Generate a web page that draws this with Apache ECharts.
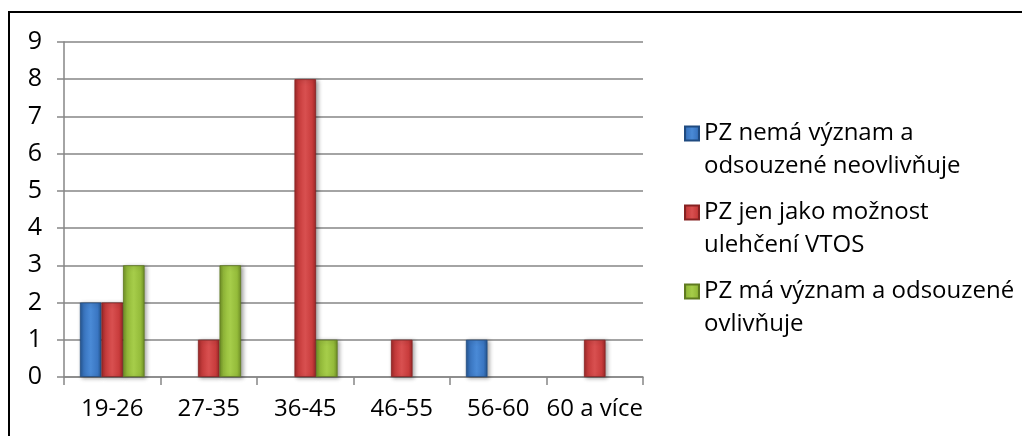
<!DOCTYPE html>
<html>
<head>
<meta charset="utf-8">
<script src="https://cdn.jsdelivr.net/npm/echarts@6/dist/echarts.min.js"></script>
<style>
html,body{margin:0;padding:0;background:#fff;}
#chart{width:1022px;height:436px;}
</style>
</head>
<body>
<div id="chart"></div>
<script>
const categories = ['19-26', '27-35', '36-45', '46-55', '56-60', '60 a více'];
const seriesNames = [
  'PZ nemá význam a odsouzené neovlivňuje',
  'PZ jen jako možnost ulehčení VTOS',
  'PZ má význam a odsouzené ovlivňuje'
];
const legendLabels = [
  ['PZ nemá význam a', 'odsouzené neovlivňuje'],
  ['PZ jen jako možnost', 'ulehčení VTOS'],
  ['PZ má význam a odsouzené', 'ovlivňuje']
];
const valuesBlue = [2, 0, 0, 0, 1, 0];
const valuesRed = [2, 1, 8, 1, 0, 1];
const valuesGreen = [3, 3, 1, 0, 0, 0];
const yTicks = { min: 0, max: 9, interval: 1 };

function grad(dark, base, light) {
  return new echarts.graphic.LinearGradient(0, 0, 1, 0, [
    { offset: 0, color: dark },
    { offset: 0.18, color: base },
    { offset: 0.5, color: light },
    { offset: 0.82, color: base },
    { offset: 1, color: dark }
  ]);
}
const palette = [
  grad('#24558f', '#3a76c2', '#4a8ad6'),
  grad('#9c2828', '#c83c3c', '#d85050'),
  grad('#6f8f26', '#94bb3a', '#a6cd4a')
];
const edgeColors = ['#1f4a80', '#862222', '#5f7a20'];
const allValues = [valuesBlue, valuesRed, valuesGreen];

const chart = echarts.init(document.getElementById('chart'), null, { renderer: 'canvas' });
const FONT = '"Open Sans", "Noto Sans", sans-serif';

chart.setOption({
  backgroundColor: '#fff',
  animation: false,
  textStyle: { fontFamily: FONT },
  graphic: [{
    type: 'rect',
    shape: { x: 9, y: 12, width: 1100, height: 500 },
    style: { fill: 'none', stroke: '#000', lineWidth: 2 },
    silent: true,
    z: 100
  }],
  grid: { left: 64, right: 379, top: 42, bottom: 59, containLabel: false },
  legend: {
    orient: 'vertical',
    left: 684,
    top: 84,
    padding: 0,
    itemWidth: 14,
    itemHeight: 14,
    itemGap: -20,
    icon: 'rect',
    data: seriesNames,
    formatter: function (name) {
      const l = legendLabels[seriesNames.indexOf(name)];
      return ' \n' + l[0] + '\n' + l[1];
    },
    textStyle: {
      fontFamily: FONT,
      fontSize: 24,
      color: '#000',
      lineHeight: 33
    }
  },
  xAxis: {
    type: 'category',
    data: categories,
    axisLine: { lineStyle: { color: '#868686', width: 1.5 } },
    axisTick: { show: true, length: 8, lineStyle: { color: '#868686', width: 1.5 } },
    axisLabel: { color: '#000', fontSize: 24, fontFamily: FONT, margin: 20, interval: 0 }
  },
  yAxis: {
    type: 'value',
    min: yTicks.min,
    max: yTicks.max,
    interval: yTicks.interval,
    axisLine: { show: true, lineStyle: { color: '#868686', width: 1.5 } },
    axisTick: { show: true, length: 7, lineStyle: { color: '#868686', width: 1.5 } },
    splitLine: { lineStyle: { color: '#868686', width: 1.5 } },
    axisLabel: { color: '#000', fontSize: 25, fontFamily: FONT, margin: 22 }
  },
  series: seriesNames.map((name, i) => ({
    name: name,
    type: 'bar',
    data: allValues[i].map(v => (v === 0 ? null : v)),
    barGap: '0%',
    barCategoryGap: '33%',
    itemStyle: {
      color: palette[i],
      borderColor: edgeColors[i],
      borderWidth: 0.8,
      shadowColor: 'rgba(0,0,0,0.35)',
      shadowBlur: 4,
      shadowOffsetX: 2,
      shadowOffsetY: 1
    }
  }))
});
</script>
</body>
</html>
